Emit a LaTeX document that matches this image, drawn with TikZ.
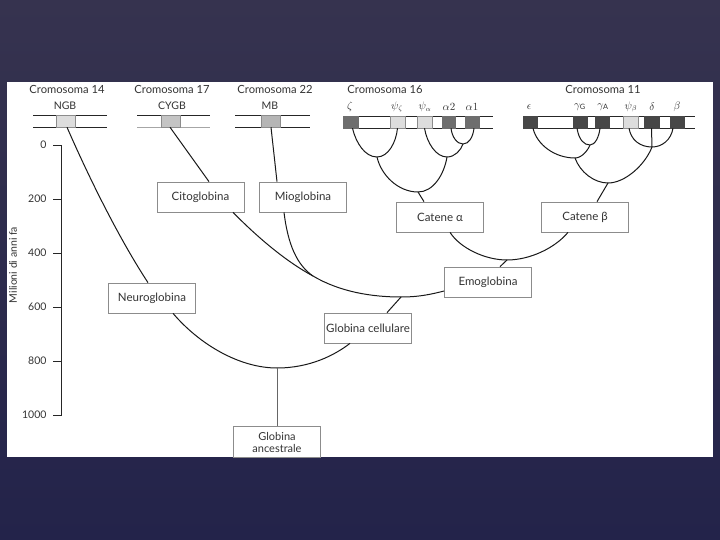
\documentclass[tikz,border=0pt]{standalone}
\usepackage{fontspec}
\setmainfont{Lato}
\usetikzlibrary{calc}
\definecolor{bgtop}{HTML}{36334F}
\definecolor{bgbot}{HTML}{23234A}
\definecolor{txt}{HTML}{333333}
\definecolor{boxline}{HTML}{8C8C8C}
\definecolor{gLight}{HTML}{DDDDDD}
\definecolor{gMid}{HTML}{C4C4C4}
\definecolor{gMB}{HTML}{B5B5B5}
\definecolor{gDark}{HTML}{6E6E6E}
\definecolor{gDarker}{HTML}{474747}
\tikzset{
  lbox/.style={draw=boxline, line width=0.7pt, fill=white, minimum width=87pt, minimum height=30pt,
    inner sep=1pt, font=\fontsize{11.5}{12.5}\selectfont, text=txt, align=center},
  gene/.style={draw=boxline, line width=0.5pt, minimum width=#1, minimum height=12pt, inner sep=0pt},
  chrline/.style={line width=0.9pt, draw=black!85},
  branch/.style={line width=1pt, draw=black!90},
  ctitle/.style={font=\fontsize{11.2}{12}\selectfont, text=txt},
  glabel/.style={font=\fontsize{10.5}{11}\selectfont, text=txt},
  tlabel/.style={font=\fontsize{10.5}{11}\selectfont, text=txt, anchor=east}
}
\begin{document}
\begin{tikzpicture}[x=1pt,y=-1pt]
\shade[top color=bgtop, bottom color=bgbot] (0,0) rectangle (720,540);
\useasboundingbox (0,0) rectangle (720,540);
\fill[white] (7,82) rectangle (713,457);

% chromosome titles
\node[ctitle] (t14) at (67,89) {Cromosoma 14};
\node[ctitle] (t17) at (172,89) {Cromosoma 17};
\node[ctitle] (t22) at (275,89) {Cromosoma 22};
\node[ctitle] (t16) at (385,89) {Cromosoma 16};
\node[ctitle] (t11) at (603,89) {Cromosoma 11};

% gene names
\node[glabel] (l14) at (65,106) {NGB};
\node[glabel] (l17) at (172,106) {CYGB};
\node[glabel] (l22) at (270,106) {MB};
\node[glabel] (lz) at (350,107) {$\zeta$};
\node[glabel] (lpz) at (397,107) {$\psi_\zeta$};
\node[glabel] (lpa) at (425,107) {$\psi_\alpha$};
\node[glabel] (la2) at (449,107) {$\alpha 2$};
\node[glabel] (la1) at (472,107) {$\alpha 1$};
\node[glabel] (le) at (529,107) {$\epsilon$};
\node[glabel] (lgg) at (580,107) {$\gamma_{\mathrm{G}}$};
\node[glabel] (lga) at (603,107) {$\gamma_{\mathrm{A}}$};
\node[glabel] (lpb) at (631,107) {$\psi_\beta$};
\node[glabel] (ld) at (652,107) {$\delta$};
\node[glabel] (lb) at (677,107) {$\beta$};

% chromosome lines
\draw[chrline] (33,115) -- (107,115) (33,127) -- (107,127);
\draw[chrline] (137,115) -- (210,115);
\draw[line width=0.9pt, draw=black!35] (137,127) -- (210,127);
\draw[chrline] (235,115) -- (310,115) (235,127) -- (310,127);
\draw[chrline] (343,116) -- (493,116) (343,128) -- (493,128);
\draw[chrline] (523,116) -- (695,116) (523,128) -- (695,128);

% gene boxes
\node[gene=19pt, fill=gLight] (ngb) at (65.5,121) {};
\node[gene=19pt, fill=gMid] (cygb) at (170.5,121) {};
\node[gene=19pt, fill=gMB] (mb) at (270.5,121) {};
\node[gene=15pt, fill=gDark, draw=gDark] (z) at (350.5,122) {};
\node[gene=15pt, fill=gLight] (pz) at (397.5,122) {};
\node[gene=15pt, fill=gLight] (pa) at (424.5,122) {};
\node[gene=13pt, fill=gDark, draw=gDark] (a2) at (449,122) {};
\node[gene=14pt, fill=gDark, draw=gDark] (a1) at (472,122) {};
\node[gene=14pt, fill=gDarker, draw=gDarker] (e) at (530,122) {};
\node[gene=14pt, fill=gDarker, draw=gDarker] (gg) at (580,122) {};
\node[gene=14pt, fill=gDarker, draw=gDarker] (ga) at (602,122) {};
\node[gene=15pt, fill=gLight] (pb) at (630.5,122) {};
\node[gene=15pt, fill=gDarker, draw=gDarker] (d) at (651.5,122) {};
\node[gene=14pt, fill=gDarker, draw=gDarker] (b) at (677,122) {};

% axis
\draw[line width=0.9pt, black!85] (53,145) -- (61,145) -- (61,415) -- (53,415);
\foreach \v/\yy in {200/199,400/253,600/307,800/361}{
  \draw[line width=0.9pt, black!85] (53,\yy) -- (61,\yy);
}
\node[tlabel] (a0) at (50,145) {0};
\node[tlabel] (a200) at (50,199) {200};
\node[tlabel] (a400) at (50,253) {400};
\node[tlabel] (a600) at (50,307) {600};
\node[tlabel] (a800) at (50,361) {800};
\node[tlabel] (a1000) at (50,415) {1000};
\node[font=\fontsize{10.5}{11}\selectfont, text=txt, rotate=90] (ax) at (13,265) {Milioni di anni fa};

% labelled boxes
\node[lbox] (cito) at (200.5,197) {Citoglobina};
\node[lbox] (mio) at (303,197) {Mioglobina};
\node[lbox] (ca) at (440,217) {Catene α};
\node[lbox] (cb) at (585,217) {Catene β};
\node[lbox] (emo) at (488,282) {Emoglobina};
\node[lbox] (gc) at (368,328) {Globina cellulare};
\node[lbox] (neuro) at (152,298) {Neuroglobina};
\node[lbox, minimum height=31pt, font=\fontsize{11}{12}\selectfont] (anc) at (277,442) {Globina\\ancestrale};

% junctions
\coordinate (j1) at (377,157);
\coordinate (j2) at (463,144);
\coordinate (j3) at (447,157);
\coordinate (j4) at (418,192);
\coordinate (k1) at (590,145);
\coordinate (k2) at (575,158);
\coordinate (k3) at (652,147);
\coordinate (k4) at (608,183);
\coordinate (h1) at (507,260);
\coordinate (m1) at (313,276);
\coordinate (m2) at (401,297);
\coordinate (n1) at (277,368);

% chromosome 16 tree
\draw[branch] ($(z.south)+(2,0)$) .. controls (356,143) and (365,157) .. (j1)
   .. controls (388,157) and (396,143) .. (pz.south);
\draw[branch] ($(a2.south)+(2,0)$) .. controls (452,137) and (457,144) .. (j2)
   .. controls (469,144) and (473,137) .. ($(a1.south)+(2,0)$);
\draw[branch] (pa.south) .. controls (427,143) and (436,157) .. (j3)
   .. controls (455,157) and (461,150) .. (j2);
\draw[branch] (j1) .. controls (381,175) and (398,192) .. (j4)
   .. controls (433,192) and (444,175) .. (j3);
\draw[branch] (j4) -- ($(ca.north)+(-16,0)$);

% chromosome 11 tree
\draw[branch] ($(gg.south)+(-3,0)$) .. controls (579,140) and (584,145) .. (k1)
   .. controls (595,145) and (599,137) .. ($(ga.south)+(-2,0)$);
\draw[branch] ($(e.south)+(3,0)$) .. controls (537,145) and (555,158) .. (k2)
   .. controls (582,158) and (588,150) .. (k1);
\draw[branch] ($(pb.south)+(-1.5,0)$) .. controls (631,140) and (640,147) .. (k3)
   .. controls (662,147) and (671,140) .. ($(b.south)+(-4,0)$);
\draw[branch] (d.south) -- (k3);
\draw[branch] (k2) .. controls (580,172) and (594,183) .. (k4)
   .. controls (625,183) and (645,165) .. (k3);
\draw[branch] (k4) -- ($(cb.north)+(12,0)$);

% haemoglobin
\draw[branch] ($(ca.south)+(10,0)$) .. controls (460,248) and (485,260) .. (h1)
   .. controls (530,260) and (555,248) .. ($(cb.south)+(-17,0)$);
\draw[branch] (h1) -- ($(emo.north)+(12,0)$);

% upper genes to boxes
\draw[branch] ($(ngb.south)+(1.5,0)$) .. controls (90,180) and (120,240) .. ($(neuro.north)+(-4,0)$);
\draw[branch] ($(cygb.south)+(-0.5,0)$) -- ($(cito.north)+(8.5,0)$);
\draw[branch] ($(mb.south)+(0.5,0)$) -- ($(mio.north)+(-26,0)$);

% cellular globin
\draw[branch] ($(cito.south)+(32.5,0)$) .. controls (270,250) and (298,268) .. (m1)
   .. controls (340,292) and (372,297) .. (m2)
   .. controls (420,297) and (432,294) .. ($(emo.west)+(0,9)$);
\draw[branch] ($(mio.south)+(-19,0)$) .. controls (288,245) and (297,265) .. (m1);
\draw[branch] ($(gc.north)+(19,0)$) -- (m2);

% ancestral
\draw[branch] ($(neuro.south)+(21,0)$) .. controls (200,345) and (240,368) .. (n1)
   .. controls (310,368) and (335,355) .. ($(gc.south)+(-18,0)$);
\draw[branch, black!60] (n1) -- (anc.north);
\end{tikzpicture}
\end{document}
